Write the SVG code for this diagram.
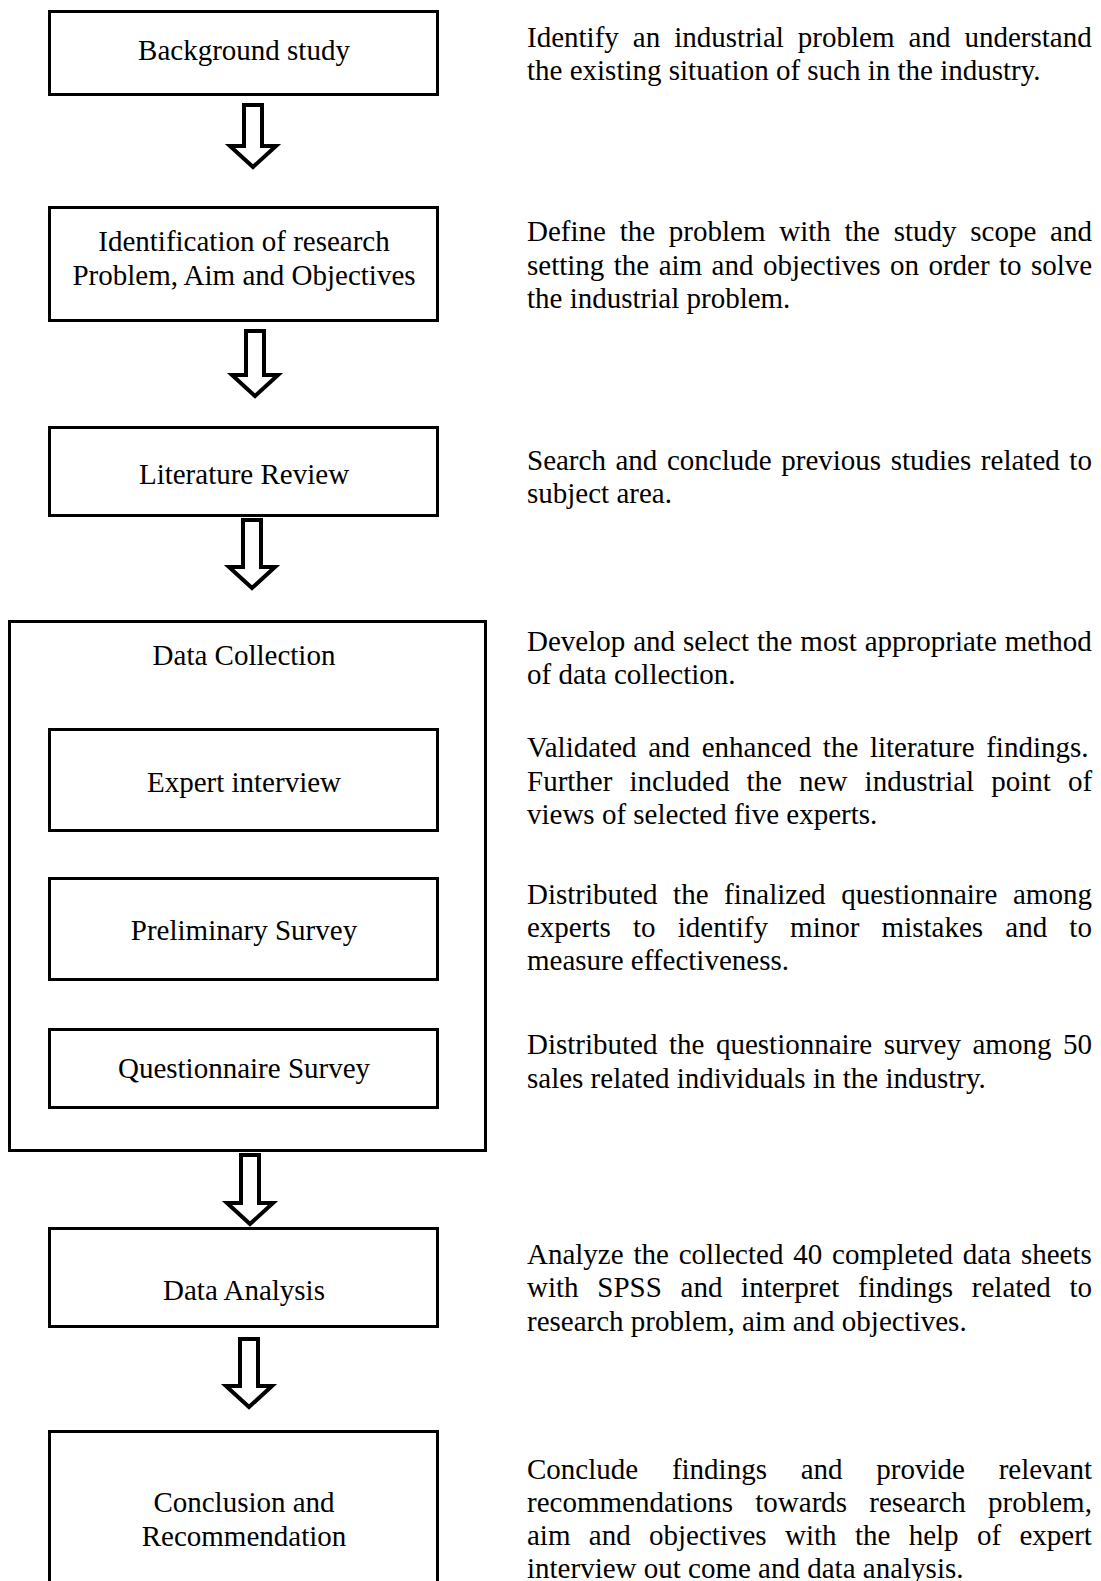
<svg xmlns="http://www.w3.org/2000/svg" width="1101" height="1581" viewBox="0 0 1101 1581">
<style>
  .box { fill: #fff; stroke: #000; stroke-width: 3; }
  .arr { fill: #fff; stroke: #000; stroke-width: 4; stroke-linejoin: miter; }
  text { font-family: "Liberation Serif", "Times New Roman", serif; font-size: 29px; fill: #000; }
  .c { text-anchor: middle; }
</style>
<rect width="1101" height="1581" fill="#fff"/>
<g id="connectors">
  <path class="arr" d="M244,105 L262,105 L262,146 L276,146 L253,167 L230,146 L244,146 Z"/>
  <path class="arr" d="M246,331 L264,331 L264,375 L278,375 L255,396 L232,375 L246,375 Z"/>
  <path class="arr" d="M243,520 L261,520 L261,567 L275,567 L252,588 L229,567 L243,567 Z"/>
  <path class="arr" d="M241,1155 L259,1155 L259,1203 L273,1203 L250,1224 L227,1203 L241,1203 Z"/>
  <path class="arr" d="M240,1339 L258,1339 L258,1386 L272,1386 L249,1407 L226,1386 L240,1386 Z"/>
</g>
<g id="background-study">
  <rect class="box" x="49.5" y="11.5" width="388" height="83"/>
  <text class="c" x="244" y="60">Background study</text>
</g>
<g id="identification">
  <rect class="box" x="49.5" y="207.5" width="388" height="113"/>
  <text class="c" x="244" y="251">Identification of research</text>
  <text class="c" x="244" y="285">Problem, Aim and Objectives</text>
</g>
<g id="literature-review">
  <rect class="box" x="49.5" y="427.5" width="388" height="88"/>
  <text class="c" x="244" y="484">Literature Review</text>
</g>
<g id="data-collection">
  <rect class="box" x="9.5" y="621.5" width="476" height="529"/>
  <text class="c" x="244" y="665">Data Collection</text>
</g>
<g id="expert-interview">
  <rect class="box" x="49.5" y="729.5" width="388" height="101"/>
  <text class="c" x="244" y="792">Expert interview</text>
</g>
<g id="preliminary-survey">
  <rect class="box" x="49.5" y="878.5" width="388" height="101"/>
  <text class="c" x="244" y="940">Preliminary Survey</text>
</g>
<g id="questionnaire-survey">
  <rect class="box" x="49.5" y="1029.5" width="388" height="78"/>
  <text class="c" x="244" y="1078">Questionnaire Survey</text>
</g>
<g id="data-analysis">
  <rect class="box" x="49.5" y="1228.5" width="388" height="98"/>
  <text class="c" x="244" y="1300">Data Analysis</text>
</g>
<g id="conclusion">
  <rect class="box" x="49.5" y="1431.5" width="388" height="200"/>
  <text class="c" x="244" y="1512">Conclusion and</text>
  <text class="c" x="244" y="1546">Recommendation</text>
</g>
<g id="descriptions">
  <text x="527" y="47" word-spacing="6.8">Identify an industrial problem and understand</text>
  <text x="527" y="80">the existing situation of such in the industry.</text>

  <text x="527" y="241" word-spacing="6.5">Define the problem with the study scope and</text>
  <text x="527" y="274.5" word-spacing="2.2">setting the aim and objectives on order to solve</text>
  <text x="527" y="308">the industrial problem.</text>

  <text x="527" y="470" word-spacing="2.35">Search and conclude previous studies related to</text>
  <text x="527" y="503">subject area.</text>

  <text x="527" y="651" word-spacing="0.7">Develop and select the most appropriate method</text>
  <text x="527" y="684">of data collection.</text>

  <text x="527" y="757" word-spacing="4.4">Validated and enhanced the literature findings.</text>
  <text x="527" y="790.5" word-spacing="9.9">Further included the new industrial point of</text>
  <text x="527" y="824">views of selected five experts.</text>

  <text x="527" y="904" word-spacing="8.35">Distributed the finalized questionnaire among</text>
  <text x="527" y="937" word-spacing="14.95">experts to identify minor mistakes and to</text>
  <text x="527" y="970">measure effectiveness.</text>

  <text x="527" y="1054" word-spacing="4.26">Distributed the questionnaire survey among 50</text>
  <text x="527" y="1088">sales related individuals in the industry.</text>

  <text x="527" y="1264" word-spacing="2.6">Analyze the collected 40 completed data sheets</text>
  <text x="527" y="1297" word-spacing="11.47">with SPSS and interpret findings related to</text>
  <text x="527" y="1331">research problem, aim and objectives.</text>

  <text x="527" y="1479" word-spacing="26.5">Conclude findings and provide relevant</text>
  <text x="527" y="1512" word-spacing="14.9">recommendations towards research problem,</text>
  <text x="527" y="1545" word-spacing="11.1">aim and objectives with the help of expert</text>
  <text x="527" y="1578">interview out come and data analysis.</text>
</g>
</svg>
